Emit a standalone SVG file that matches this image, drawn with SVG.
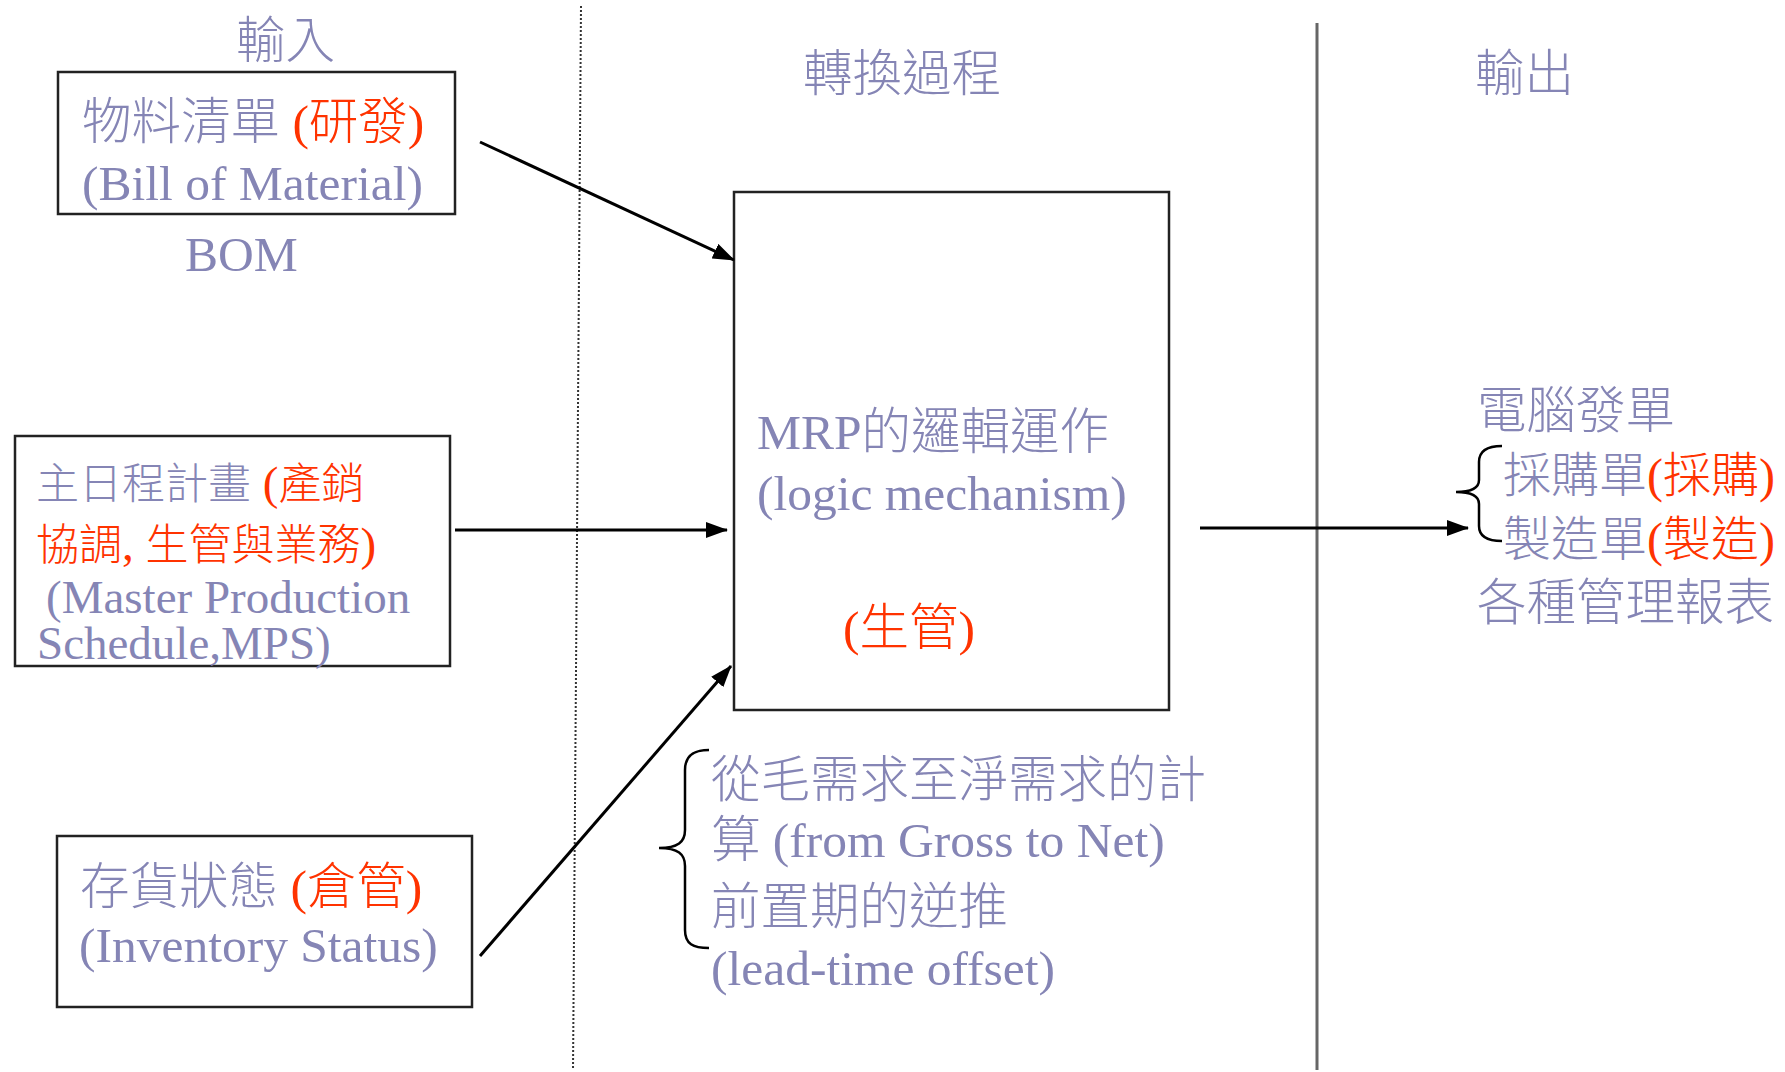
<svg xmlns="http://www.w3.org/2000/svg" width="1785" height="1072" viewBox="0 0 1785 1072">
<style>
.box{fill:none;stroke:#222;stroke-width:2.5}
.t{font-family:"Liberation Serif","Noto Sans CJK TC",serif;fill:#8585B5;font-size:49.5px;font-weight:300}
.r{fill:#FF3300}
.s47{font-size:47px}
.s48{font-size:48px}
.c43{font-size:43px}
.conn{stroke:#000;stroke-width:3;fill:none}
.brace{stroke:#000;stroke-width:2.5;fill:none}
.div1{stroke:#333;stroke-width:2;stroke-dasharray:2 2;fill:none}
.div2{stroke:#666;stroke-width:3;fill:none}
</style>
<defs>
<marker id="arr" markerUnits="userSpaceOnUse" markerWidth="22" markerHeight="16" viewBox="0 0 22 16" refX="21" refY="8" orient="auto">
<path d="M0,0 L22,8 L0,16 z" fill="#000"/>
</marker>
</defs>
<rect width="1785" height="1072" fill="#fff"/>

<g id="dividers">
<line class="div1" x1="581" y1="6" x2="573" y2="1070"/>
<line class="div2" x1="1317" y1="23" x2="1317" y2="1070"/>
</g>

<g id="headings">
<text class="t" x="236" y="58">輸入</text>
<text class="t" x="803" y="91">轉換過程</text>
<text class="t" x="1475" y="91">輸出</text>
</g>

<g id="bom">
<rect class="box" x="58" y="72" width="397" height="142"/>
<text class="t" x="82" y="139">物料清單 <tspan class="r">(研發)</tspan></text>
<text class="t" x="82" y="200">(Bill of Material)</text>
<text class="t" x="185" y="271">BOM</text>
</g>

<g id="mps">
<rect class="box" x="15" y="436" width="435" height="230"/>
<text class="t s47" x="36" y="499"><tspan class="c43">主日程計畫</tspan> <tspan class="r">(<tspan class="c43">產銷</tspan></tspan></text>
<text class="t r s47" x="36" y="560"><tspan class="c43">協調</tspan>, <tspan class="c43">生管與業務</tspan>)</text>
<text class="t s47" x="46" y="613">(Master Production</text>
<text class="t s47" x="37" y="659">Schedule,MPS)</text>
</g>

<g id="inventory">
<rect class="box" x="57" y="836" width="415" height="171"/>
<text class="t" x="80" y="904">存貨狀態 <tspan class="r">(倉管)</tspan></text>
<text class="t" x="79" y="962">(Inventory Status)</text>
</g>

<g id="mrp">
<rect class="box" x="734" y="192" width="435" height="518"/>
<text class="t" x="757" y="449">MRP的邏輯運作</text>
<text class="t" x="757" y="510">(logic mechanism)</text>
<text class="t r" x="843" y="645">(生管)</text>
</g>

<g id="calc-note">
<path class="brace" d="M709,750 C693,750 685,756 685,770 L685,830 C685,842 678,848 659,848 C678,848 685,854 685,866 L685,930 C685,944 693,948 709,948"/>
<text class="t" x="711" y="797">從毛需求至淨需求的計</text>
<text class="t" x="711" y="857">算 (from Gross to Net)</text>
<text class="t" x="711" y="924">前置期的逆推</text>
<text class="t" x="711" y="985">(lead-time offset)</text>
</g>

<g id="output">
<path class="brace" d="M1502,446 C1487,446 1479,451 1479,462 L1479,480 C1479,488 1472,492 1456,492 C1472,492 1479,496 1479,504 L1479,526 C1479,536 1487,541 1502,541"/>
<text class="t" x="1477" y="428">電腦發單</text>
<text class="t s48" x="1503" y="492">採購單<tspan class="r">(採購)</tspan></text>
<text class="t s48" x="1503" y="556">製造單<tspan class="r">(製造)</tspan></text>
<text class="t" x="1477" y="620">各種管理報表</text>
</g>

<g id="connectors">
<line class="conn" x1="480" y1="142" x2="734" y2="260" marker-end="url(#arr)"/>
<line class="conn" x1="455" y1="530" x2="727" y2="530" marker-end="url(#arr)"/>
<line class="conn" x1="480" y1="956" x2="731" y2="666" marker-end="url(#arr)"/>
<line class="conn" x1="1200" y1="528" x2="1468" y2="528" marker-end="url(#arr)"/>
</g>
</svg>
